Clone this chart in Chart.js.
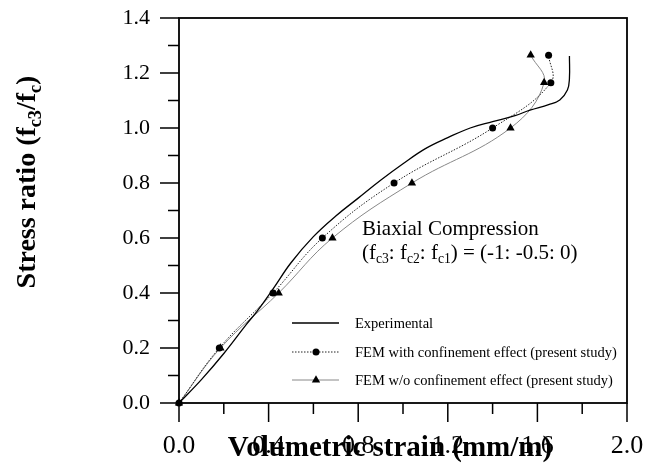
<!DOCTYPE html>
<html>
<head>
<meta charset="utf-8">
<script src="https://cdn.jsdelivr.net/npm/chart.js@4/dist/chart.umd.min.js"></script>
<style>
  html, body { margin: 0; padding: 0; background: #fff; }
  #wrap { width: 645px; height: 474px; }
</style>
</head>
<body>
<div id="wrap"><canvas id="chart" width="645" height="474"></canvas></div>
<script>
// Biaxial compression, volumetric strain (mm/m) vs stress ratio fc3/fc
const expStrain = [0, 0.1, 0.2, 0.3, 0.35, 0.42, 0.5, 0.6, 0.7, 0.8, 0.9, 1.0, 1.1, 1.2, 1.3, 1.4, 1.5, 1.567, 1.65, 1.70, 1.734, 1.743, 1.743];
const expStress = [0, 0.085, 0.18, 0.285, 0.335, 0.415, 0.51, 0.605, 0.68, 0.745, 0.81, 0.87, 0.925, 0.965, 1.0, 1.023, 1.045, 1.065, 1.085, 1.102, 1.138, 1.18, 1.262];

const femStrain = [0, 0.18, 0.42, 0.64, 0.96, 1.40, 1.66, 1.65];
const femStress = [0, 0.2, 0.4, 0.6, 0.8, 1.0, 1.165, 1.265];

const femNoConfStrain = [0, 0.185, 0.445, 0.685, 1.04, 1.48, 1.63, 1.57];
const femNoConfStress = [0, 0.2, 0.4, 0.6, 0.8, 1.0, 1.165, 1.265];

const seriesNames = [
  "Experimental",
  "FEM with confinement effect (present study)",
  "FEM w/o confinement effect (present study)",
];

// labelled ticks; the axes also carry unlabelled minor ticks in between
const xLabelValues = [0, 0.4, 0.8, 1.2, 1.6, 2.0];
const yLabelValues = [0, 0.2, 0.4, 0.6, 0.8, 1.0, 1.2, 1.4];

const xTitle = [["Volumetric strain (mm/m)", 0]];
const yTitle = [["Stress ratio (f", 0], ["c3", 1], ["/f", 0], ["c", 1], [")", 0]];
const noteLine1 = [["Biaxial Compression", 0]];
const noteLine2 = [["(f", 0], ["c3", 1], [": f", 0], ["c2", 1], [": f", 0], ["c1", 1], [") = (-1: -0.5: 0)", 0]];

const serif = "'Liberation Serif', 'Times New Roman', serif";

const toPoints = (xs, ys) => xs.map((x, i) => ({ x: x, y: ys[i] }));
const isLabelled = (list, v) => list.some((l) => Math.abs(l - v) < 1e-6);

// text with subscript runs
function richWidth(ctx, parts, size, weight) {
  let w = 0;
  parts.forEach(([s, sub]) => {
    ctx.font = `${weight} ${sub ? size * 0.65 : size}px ${serif}`;
    w += ctx.measureText(s).width;
  });
  return w;
}

function drawRich(ctx, parts, x, y, size, weight, align) {
  let cx = align === "center" ? x - richWidth(ctx, parts, size, weight) / 2 : x;
  ctx.textAlign = "left";
  ctx.textBaseline = "alphabetic";
  parts.forEach(([s, sub]) => {
    const fs = sub ? size * 0.65 : size;
    ctx.font = `${weight} ${fs}px ${serif}`;
    ctx.fillText(s, cx, sub ? y + size * 0.2 : y);
    cx += ctx.measureText(s).width;
  });
}

const framePlugin = {
  id: "frame",
  afterDraw(chart) {
    const { ctx, chartArea: a, scales } = chart;
    ctx.save();
    ctx.strokeStyle = "#000";

    // minor / major tick marks, pointing outwards
    ctx.lineWidth = 1.5;
    ctx.beginPath();
    scales.x.ticks.forEach((t) => {
      const px = scales.x.getPixelForValue(t.value);
      const len = isLabelled(xLabelValues, t.value) ? 19 : 11;
      ctx.moveTo(px, a.bottom);
      ctx.lineTo(px, a.bottom + len);
    });
    scales.y.ticks.forEach((t) => {
      const py = scales.y.getPixelForValue(t.value);
      const len = isLabelled(yLabelValues, t.value) ? 19 : 11;
      ctx.moveTo(a.left, py);
      ctx.lineTo(a.left - len, py);
    });
    ctx.stroke();

    ctx.lineWidth = 1.8;
    ctx.strokeRect(a.left, a.top, a.right - a.left, a.bottom - a.top);

    // axis titles
    ctx.fillStyle = "#000";
    drawRich(ctx, xTitle, 390, 456, 29, "bold", "center");
    ctx.save();
    ctx.translate(35, 182);
    ctx.rotate(-Math.PI / 2);
    drawRich(ctx, yTitle, 0, 0, 28, "bold", "center");
    ctx.restore();

    // load case note
    drawRich(ctx, noteLine1, 362, 235, 21, "normal", "left");
    drawRich(ctx, noteLine2, 362, 259, 21, "normal", "left");

    // legend
    const rows = [323, 352, 380];
    chart.data.datasets.forEach((ds, i) => {
      const y = rows[i];
      ctx.save();
      ctx.strokeStyle = ds.borderColor;
      ctx.lineWidth = ds.borderWidth;
      ctx.setLineDash(ds.borderDash || []);
      ctx.beginPath();
      ctx.moveTo(292, y);
      ctx.lineTo(339, y);
      ctx.stroke();
      ctx.restore();
      if (ds.pointRadius > 0) {
        ctx.fillStyle = "#000";
        ctx.strokeStyle = "#000";
        Chart.helpers.drawPoint(ctx, {
          pointStyle: ds.pointStyle,
          radius: ds.pointRadius,
          borderWidth: 0,
          rotation: 0,
        }, 316, y);
      }
      ctx.fillStyle = "#000";
      ctx.font = `14.5px ${serif}`;
      ctx.textAlign = "left";
      ctx.textBaseline = "middle";
      ctx.fillText(ds.label, 355, y + 1);
    });
    ctx.restore();
  },
};

new Chart(document.getElementById("chart"), {
  type: "line",
  data: {
    datasets: [
      {
        label: seriesNames[0],
        data: toPoints(expStrain, expStress),
        borderColor: "#000",
        borderWidth: 1.3,
        pointRadius: 0,
        tension: 0.4,
      },
      {
        label: seriesNames[1],
        data: toPoints(femStrain, femStress),
        borderColor: "#222",
        borderWidth: 1,
        borderDash: [1.5, 1.5],
        pointStyle: "circle",
        pointRadius: 3.5,
        pointBackgroundColor: "#000",
        pointBorderColor: "#000",
        pointBorderWidth: 0,
        tension: 0.4,
      },
      {
        label: seriesNames[2],
        data: toPoints(femNoConfStrain, femNoConfStress),
        borderColor: "#888",
        borderWidth: 1,
        pointStyle: "triangle",
        pointRadius: 4.8,
        pointBackgroundColor: "#000",
        pointBorderColor: "#000",
        pointBorderWidth: 0,
        tension: 0.4,
      },
    ],
  },
  options: {
    responsive: false,
    animation: false,
    clip: false,
    layout: { padding: { top: 18, right: 18, left: 0, bottom: 0 } },
    plugins: {
      legend: { display: false },
      tooltip: { enabled: false },
    },
    scales: {
      x: {
        type: "linear",
        min: 0,
        max: 2,
        grid: { display: false, drawTicks: false, tickLength: 0 },
        border: { display: false },
        ticks: {
          stepSize: 0.2,
          padding: 28,
          color: "#000",
          font: { family: serif, size: 26 },
          maxRotation: 0,
          autoSkip: false,
          callback: (v) => (isLabelled(xLabelValues, v) ? v.toFixed(1) : ""),
        },
        afterFit: (scale) => {
          scale.height = 71;
          scale.paddingLeft = 0;
          scale.paddingRight = 0;
        },
      },
      y: {
        type: "linear",
        min: 0,
        max: 1.4,
        grid: { display: false, drawTicks: false, tickLength: 0 },
        border: { display: false },
        ticks: {
          stepSize: 0.1,
          padding: 29,
          color: "#000",
          font: { family: serif, size: 22 },
          autoSkip: false,
          callback: (v) => (isLabelled(yLabelValues, v) ? v.toFixed(1) : ""),
        },
        afterFit: (scale) => {
          scale.width = 179;
          scale.paddingTop = 0;
          scale.paddingBottom = 0;
        },
      },
    },
  },
  plugins: [framePlugin],
});
</script>
</body>
</html>
